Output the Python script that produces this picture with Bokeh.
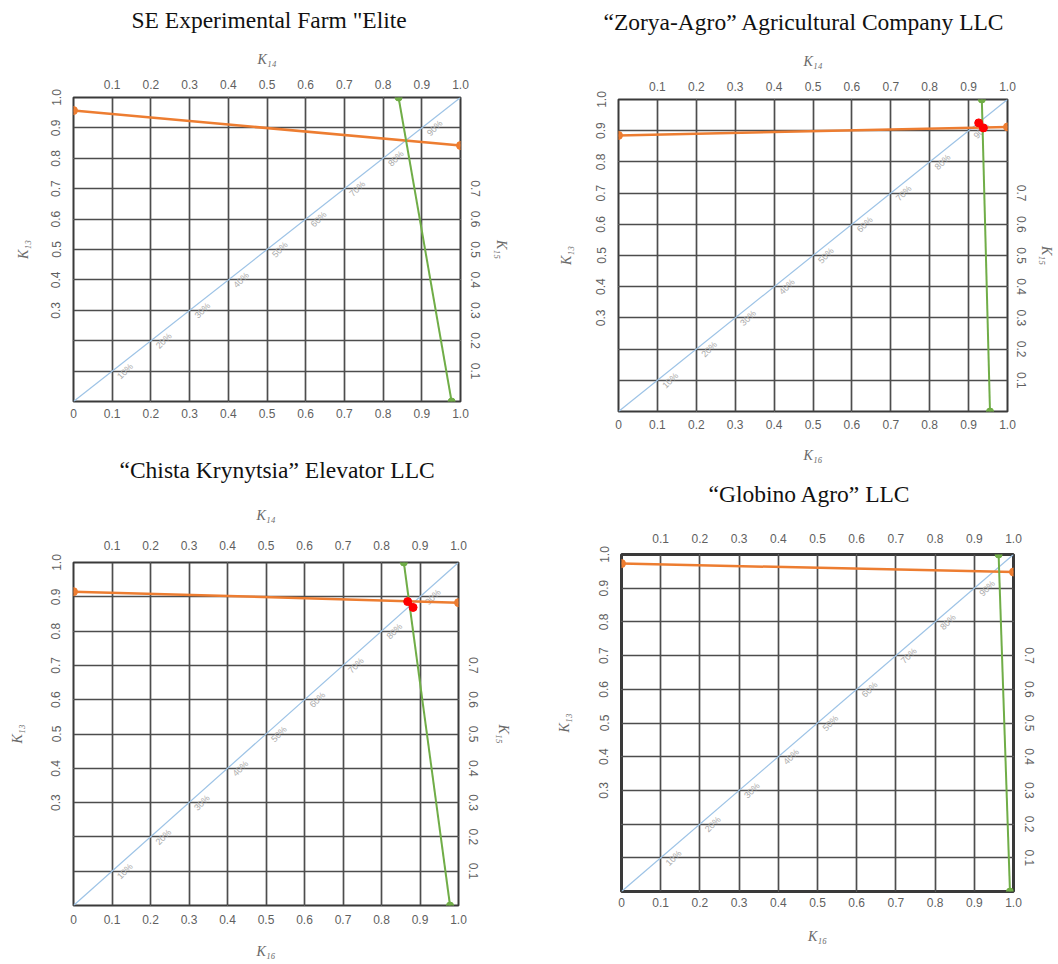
import math
from bokeh.plotting import figure
from bokeh.models import Range1d, LinearAxis, FixedTicker, Grid, Title, PrintfTickFormatter
from bokeh.layouts import row, column
from bokeh.embed import file_html
from bokeh.resources import INLINE
from bokeh.core.properties import value

# ---------------- data ----------------
titles = [
    "SE Experimental Farm \"Elite",
    "\u201cZorya-Agro\u201d Agricultural Company LLC",
    "\u201cChista Krynytsia\u201d Elevator LLC",
    "\u201cGlobino Agro\u201d LLC",
]
k13_left = [0.957, 0.885, 0.915, 0.973]     # orange line, left end (K13)
k15_right = [0.842, 0.912, 0.883, 0.948]    # orange line, right end (K15)
k14_top = [0.840, 0.934, 0.858, 0.962]      # green line, top end (K14)
k16_bottom = [0.977, 0.955, 0.978, 0.991]   # green line, bottom end (K16)
red_x = [[], [0.926, 0.938], [0.868, 0.882], []]
red_y = [[], [0.925, 0.909], [0.886, 0.869], []]
axis_ends = [0.0, 1.0]
diag_vals = [0.1, 0.2, 0.3, 0.4, 0.5, 0.6, 0.7, 0.8, 0.9]
diag_labels = ["10%", "20%", "30%", "40%", "50%", "60%", "70%", "80%", "90%"]
grid_ticks = [0.0, 0.1, 0.2, 0.3, 0.4, 0.5, 0.6, 0.7, 0.8, 0.9, 1.0]
top_ticks = [0.1, 0.2, 0.3, 0.4, 0.5, 0.6, 0.7, 0.8, 0.9, 1.0]
bottom_ticks = [0.0, 0.1, 0.2, 0.3, 0.4, 0.5, 0.6, 0.7, 0.8, 0.9, 1.0]
left_ticks = [0.3, 0.4, 0.5, 0.6, 0.7, 0.8, 0.9, 1.0]
right_ticks = [0.1, 0.2, 0.3, 0.4, 0.5, 0.6, 0.7]
label_k13 = "K\u2081\u2083"
label_k14 = "K\u2081\u2084"
label_k15 = "K\u2081\u2085"
label_k16 = "K\u2081\u2086"

# ---------------- layout (per panel) ----------------
# mb = (left, right, top, bottom); *s = (tick label standoff, axis label standoff)
panels = [
    dict(w=530, h=440, mb=(73, 70, 97, 39), toff=58, gap=13, top_lab=True, bot_lab=False, right_lab=True,
         ls=(13, 18), rs=(10, 11), ts=(9, 10), bs=(7, 16), ow=2),
    dict(w=526, h=470, mb=(88, 49, 99, 59), toff=-15, gap=13, top_lab=True, bot_lab=True, right_lab=True,
         ls=(13, 20), rs=(9, 10), ts=(9, 10), bs=(8, 16), ow=2),
    dict(w=530, h=522, mb=(73, 72, 122, 57), toff=46, gap=19, top_lab=True, bot_lab=True, right_lab=True,
         ls=(13, 24), rs=(10, 15), ts=(13, 15), bs=(9, 17), ow=2),
    dict(w=526, h=492, mb=(91, 43, 84, 71), toff=87, gap=21, top_lab=False, bot_lab=True, right_lab=False,
         ls=(13, 25), rs=(11, 8), ts=(12, 10), bs=(6, 19), ow=3),
]

TICK_FONT = "Liberation Sans"
TICK_COLOR = "#5f5f5f"
AX_FONT = "Liberation Serif"
AX_COLOR = "#6a6a6a"


def style_axis(ax, standoff, label_standoff, orient=None):
    ax.axis_line_color = None
    ax.major_tick_line_color = None
    ax.minor_tick_line_color = None
    ax.major_tick_out = 0
    ax.major_tick_in = 0
    ax.major_label_standoff = standoff
    ax.axis_label_standoff = label_standoff
    ax.major_label_text_font = TICK_FONT
    ax.major_label_text_font_size = "12px"
    ax.major_label_text_color = TICK_COLOR
    ax.axis_label_text_font = AX_FONT
    ax.axis_label_text_font_size = "14px"
    ax.axis_label_text_font_style = "italic"
    ax.axis_label_text_color = AX_COLOR
    ax.formatter = PrintfTickFormatter(format="%.1f")
    if orient is not None:
        ax.major_label_orientation = orient


def make_panel(i):
    cfg = panels[i]
    l, r, t, b = cfg["mb"]
    p = figure(width=cfg["w"], height=cfg["h"], x_range=Range1d(0, 1), y_range=Range1d(0, 1),
               output_backend="svg", toolbar_location=None,
               x_axis_location=None, y_axis_location=None,
               min_border_left=l, min_border_right=r, min_border_top=t, min_border_bottom=b,
               title=None)
    p.background_fill_color = "white"
    p.border_fill_color = "white"
    p.outline_line_color = "#3a3a3a"
    p.outline_line_width = cfg["ow"]

    # axes
    ax_b = LinearAxis(ticker=FixedTicker(ticks=bottom_ticks),
                      axis_label=label_k16 if cfg["bot_lab"] else None)
    style_axis(ax_b, *cfg["bs"])
    ax_b.major_label_overrides = {0: "0"}
    p.add_layout(ax_b, "below")

    ax_t = LinearAxis(ticker=FixedTicker(ticks=top_ticks),
                      axis_label=label_k14 if cfg["top_lab"] else None)
    style_axis(ax_t, *cfg["ts"])
    p.add_layout(ax_t, "above")

    ax_l = LinearAxis(ticker=FixedTicker(ticks=left_ticks), axis_label=label_k13)
    style_axis(ax_l, *cfg["ls"], orient="vertical")
    p.add_layout(ax_l, "left")

    ax_r = LinearAxis(ticker=FixedTicker(ticks=right_ticks),
                      axis_label=label_k15 if cfg["right_lab"] else None)
    style_axis(ax_r, *cfg["rs"], orient="vertical")
    p.add_layout(ax_r, "right")

    # grid
    for dim in (0, 1):
        g = Grid(dimension=dim, ticker=FixedTicker(ticks=grid_ticks),
                 grid_line_color="#4d4d4d", grid_line_width=1.7)
        p.add_layout(g)

    # spacer between the top axis and the title, then the title
    p.add_layout(Title(text=" ", text_font_size="1px", standoff=cfg["gap"]), "above")
    p.add_layout(Title(text=titles[i], align="left", offset=cfg["toff"], standoff=0,
                       text_font=AX_FONT, text_font_size="23.5px", text_font_style="normal",
                       text_color="#111111"), "above")

    # diagonal
    p.line(axis_ends, axis_ends, line_color="#9DC3E6", line_width=1.2)
    p.text(x=diag_vals, y=diag_vals, text=diag_labels, angle=math.pi / 4,
           text_font=value("Liberation Sans"), text_font_size="9px", text_color="#ababab",
           text_align="left", text_baseline="top", x_offset=3, y_offset=3)

    # orange line (K13 -> K15)
    oy = [k13_left[i], k15_right[i]]
    p.line(axis_ends, oy, line_color="#ED7D31", line_width=2.5)
    p.scatter(axis_ends, oy, size=8, fill_color="#ED7D31", line_color="#ED7D31")

    # green line (K14 -> K16)
    gx = [k14_top[i], k16_bottom[i]]
    gy = [axis_ends[1], axis_ends[0]]
    p.line(gx, gy, line_color="#70AD47", line_width=2)
    p.scatter(gx, gy, size=7, fill_color="#70AD47", line_color="#70AD47")

    # red result points
    if red_x[i]:
        p.line(red_x[i], red_y[i], line_color="#FF0000", line_width=4)
        p.scatter(red_x[i], red_y[i], size=8, fill_color="#FF0000", line_color="#FF0000")
    return p


figs = [make_panel(i) for i in range(4)]
layout = row(column(column(figs[0]), column(figs[2])), column(column(figs[1]), column(figs[3])))

open("out.html", "w").write(file_html(layout, INLINE))
